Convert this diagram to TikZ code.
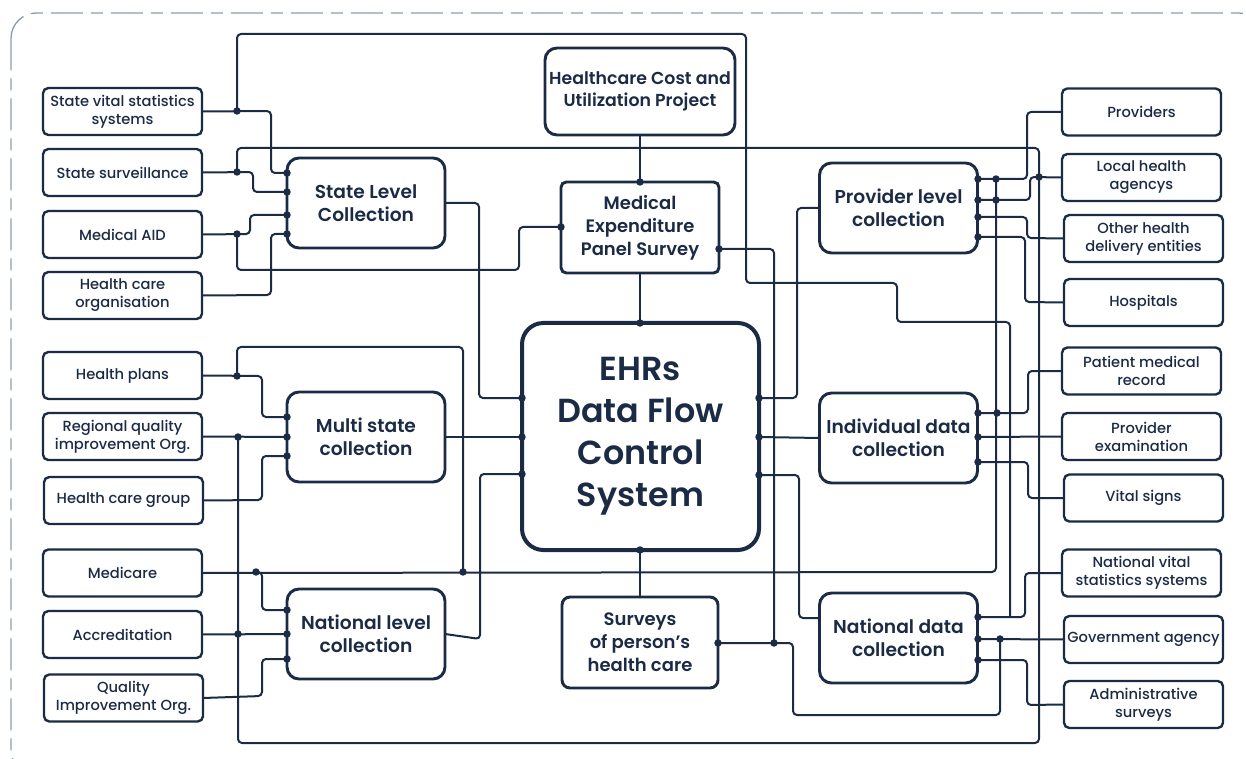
\documentclass[tikz,border=0pt]{standalone}
\usepackage{fontspec}
\setmainfont{Poppins}[UprightFont={* Medium}, BoldFont={* SemiBold}]
\definecolor{ink}{HTML}{1B2B45}
\definecolor{rim}{HTML}{8D9BB0}

\begin{document}
\begin{tikzpicture}[x=0.75pt, y=-0.75pt,
  every node/.style={text=ink, align=center, inner sep=0pt, outer sep=0pt},
  leaf/.style={draw=ink, fill=white, line width=1.8pt, rounded corners=4pt,
    minimum width=119.25pt, minimum height=35.25pt,
    font=\fontsize{11}{13.5}\selectfont},
  hub/.style={draw=ink, fill=white, line width=2.2pt, rounded corners=9pt,
    minimum width=118.5pt, minimum height=67.5pt,
    font=\bfseries\fontsize{14}{17.25}\selectfont},
  mid/.style={draw=ink, fill=white, line width=2.2pt, rounded corners=4pt,
    font=\bfseries\fontsize{13.5}{17.25}\selectfont},
  core/.style={draw=ink, fill=white, line width=3pt, rounded corners=16pt,
    minimum width=177.75pt, minimum height=170.25pt,
    font=\bfseries\fontsize{25}{31.5}\selectfont},
  conn/.style={draw=ink, line width=1.5pt, rounded corners=3pt},
]
\useasboundingbox (0,0) rectangle (1246,759);

% outer dashed frame
\draw[rim, line width=1pt, dash pattern=on 24pt off 6pt on 9pt off 6pt,
  rounded corners=19pt] (11,13) rectangle (1264,775);

% ---- sources on the left
\node[leaf] (svss)     at (122.5,111.5) {State vital statistics\\systems};
\node[leaf] (ssurv)    at (122.5,172.5) {State surveillance};
\node[leaf] (maid)     at (122.5,234.5) {Medical AID};
\node[leaf] (hco)      at (122.5,295.5) {Health care\\organisation};
\node[leaf] (hplans)   at (122.5,375.5) {Health plans};
\node[leaf] (rqio)     at (122.5,436.5) {Regional quality\\improvement Org.};
\node[leaf] (hcg)      at (123.5,500.5) {Health care group};
\node[leaf] (medicare) at (122.5,573)   {Medicare};
\node[leaf] (accr)     at (122.5,634.5) {Accreditation};
\node[leaf] (qio)      at (123.5,698)   {Quality\\Improvement Org.};

% ---- collection stages on the left
\node[hub] (sl) at (366,203) {State Level\\Collection};
\node[hub] (ms) at (366,437) {Multi state\\collection};
\node[hub] (nl) at (366,634) {National level\\collection};

% ---- centre column
\node[mid, rounded corners=9pt, minimum width=142.5pt, minimum height=65.25pt,
  font=\bfseries\fontsize{13}{16.3}\selectfont]
  (hcup) at (640,91.5) {Healthcare Cost and\\Utilization Project};
\node[mid, minimum width=118.5pt, minimum height=68.25pt]
  (meps) at (640,227.5) {Medical\\Expenditure\\Panel Survey};
\node[core] (ehr) at (640.5,436.5) {EHRs\\Data Flow\\Control\\System};
\node[mid, rounded corners=6pt, minimum width=117pt, minimum height=68.25pt]
  (surv) at (640,642.5) {Surveys\\of person’s\\health care};

% ---- collection stages on the right
\node[hub] (pl) at (898.5,208) {Provider level\\collection};
\node[hub] (id) at (898.5,438) {Individual data\\collection};
\node[hub] (nd) at (898.5,638) {National data\\collection};

% ---- sources on the right
\node[leaf] (prov) at (1141.5,112)   {Providers};
\node[leaf] (lha)  at (1141.5,177.5) {Local health\\agencys};
\node[leaf] (ohde) at (1143.5,238.5) {Other health\\delivery entities};
\node[leaf] (hosp) at (1143.5,302.5) {Hospitals};
\node[leaf] (pmr)  at (1141.5,371)   {Patient medical\\record};
\node[leaf] (pex)  at (1141.5,436.5) {Provider\\examination};
\node[leaf] (vs)   at (1143.5,498)   {Vital signs};
\node[leaf] (nvss) at (1141.5,573)   {National vital\\statistics systems};
\node[leaf] (gov)  at (1143.5,639.5) {Government agency};
\node[leaf] (adm)  at (1143.5,704.5) {Administrative\\surveys};

% ---- ports on box edges
\coordinate (slA) at (287,173); \coordinate (slB) at (287,192);
\coordinate (slC) at (287,215); \coordinate (slD) at (287,234);
\coordinate (msA) at (287,417); \coordinate (msB) at (287,437);
\coordinate (msC) at (287,456);
\coordinate (nlA) at (287,610); \coordinate (nlB) at (287,634);
\coordinate (nlC) at (287,659);
\coordinate (plA) at (978,179); \coordinate (plB) at (978,200);
\coordinate (plC) at (978,217); \coordinate (plD) at (978,237);
\coordinate (idA) at (978,413); \coordinate (idB) at (978,437);
\coordinate (idC) at (978,462);
\coordinate (ndA) at (978,617); \coordinate (ndB) at (978,639);
\coordinate (ndC) at (978,660); \coordinate (ndW) at (819,618);
\coordinate (eL1) at (522,398); \coordinate (eL2) at (522,437);
\coordinate (eL3) at (522,474);
\coordinate (eR1) at (759,398); \coordinate (eR2) at (759,437);
\coordinate (eR3) at (759,475);
\coordinate (eT) at (640,323); \coordinate (eB) at (640,550);
\coordinate (mT) at (640,182); \coordinate (mL) at (561,227);
\coordinate (mR) at (719,249); \coordinate (sR) at (718,643);

% ---- junctions
\coordinate (j1) at (237,111); \coordinate (j2) at (237,172);
\coordinate (j3) at (237,234); \coordinate (j4) at (237,376);
\coordinate (j5) at (238,437); \coordinate (j6) at (256,572);
\coordinate (j7) at (463,572); \coordinate (j8) at (238,634);
\coordinate (j9) at (996,179); \coordinate (j10) at (996,200);
\coordinate (j11) at (1039,177); \coordinate (j12) at (997,413);
\coordinate (j13) at (774,643); \coordinate (j14) at (1000,639);
\coordinate (t1) at (1010,617);

% ---- left feeds into the collection stages
\draw[conn] (svss.east) -- (271,111) -- (271,173) -- (slA);
\draw[conn] (j1) -- (237,34) -- (746,34) -- (746,283) -- (897,283)
  -- (897,322) -- (1010,322) -- (t1);
\draw[conn] (ssurv.east) -- (253,172) -- (253,192) -- (slB);
\draw[conn] (j2) -- (237,148) -- (1039,148) -- (1039,743) -- (238,743) -- (j5);
\draw[conn] (maid.east) -- (250,234) -- (250,215) -- (slC);
\draw[conn] (j3) -- (237,270) -- (519,270) -- (519,227) -- (mL);
\draw[conn] (hco.east) -- (271,295) -- (271,234) -- (slD);
\draw[conn] (hplans.east) -- (262,376) -- (262,417) -- (msA);
\draw[conn] (j4) -- (237,347) -- (463,347) -- (j7);
\draw[conn] (rqio.east) -- (msB);
\draw[conn] (hcg.east) -- (262,500) -- (262,456) -- (msC);
\draw[conn] (medicare.east) -- (996,572) -- (j9);
\draw[conn] (j6) -- (262,572) -- (262,610) -- (nlA);
\draw[conn] (accr.east) -- (nlB);
\draw[conn] (qio.east) -- (262,696) -- (262,659) -- (nlC);

% ---- collection stages into the core
\draw[conn] (sl.east) -- (479,203) -- (479,398) -- (eL1);
\draw[conn] (ms.east) -- (eL2);
\draw[conn] (nl.east) -- (480,639) -- (480,474) -- (eL3);

% ---- centre column
\draw[conn] (hcup.south) -- (mT);
\draw[conn] (meps.south) -- (eT);
\draw[conn] (eB) -- (surv.north);
\draw[conn] (mR) -- (774,249) -- (j13);
\draw[conn] (sR) -- (793,643) -- (793,715) -- (1000,715) -- (j14);

% ---- core out to the right stages
\draw[conn] (eR1) -- (797,398) -- (797,208) -- (pl.west);
\draw[conn] (eR2) -- (id.west);
\draw[conn] (eR3) -- (799,475) -- (799,618) -- (ndW);

% ---- right feeds
\draw[conn] (prov.west) -- (1027,112) -- (1027,179) -- (plA);
\draw[conn] (lha.west) -- (1030,177) -- (1030,200) -- (plB);
\draw[conn] (ohde.west) -- (1027,238) -- (1027,217) -- (plC);
\draw[conn] (hosp.west) -- (1025,302) -- (1025,237) -- (plD);
\draw[conn] (pmr.west) -- (1028,371) -- (1028,413) -- (idA);
\draw[conn] (pex.west) -- (idB);
\draw[conn] (vs.west) -- (1028,498) -- (1028,462) -- (idC);
\draw[conn] (nvss.west) -- (1025,573) -- (1025,617) -- (ndA);
\draw[conn] (gov.west) -- (ndB);
\draw[conn] (adm.west) -- (1027,705) -- (1027,660) -- (ndC);

% ---- dots
\foreach \p in {slA,slB,slC,slD,msA,msB,msC,nlA,nlB,nlC,
    plA,plB,plC,plD,idA,idB,idC,ndA,ndB,ndC,
    eL1,eL2,eL3,eR1,eR2,eR3,eT,eB,mT,mL,mR,sR,
    j1,j2,j3,j4,j5,j6,j7,j8,j9,j10,j11,j12,j13,j14}
  \fill[ink] (\p) circle[radius=2.8pt];
\end{tikzpicture}
\end{document}
